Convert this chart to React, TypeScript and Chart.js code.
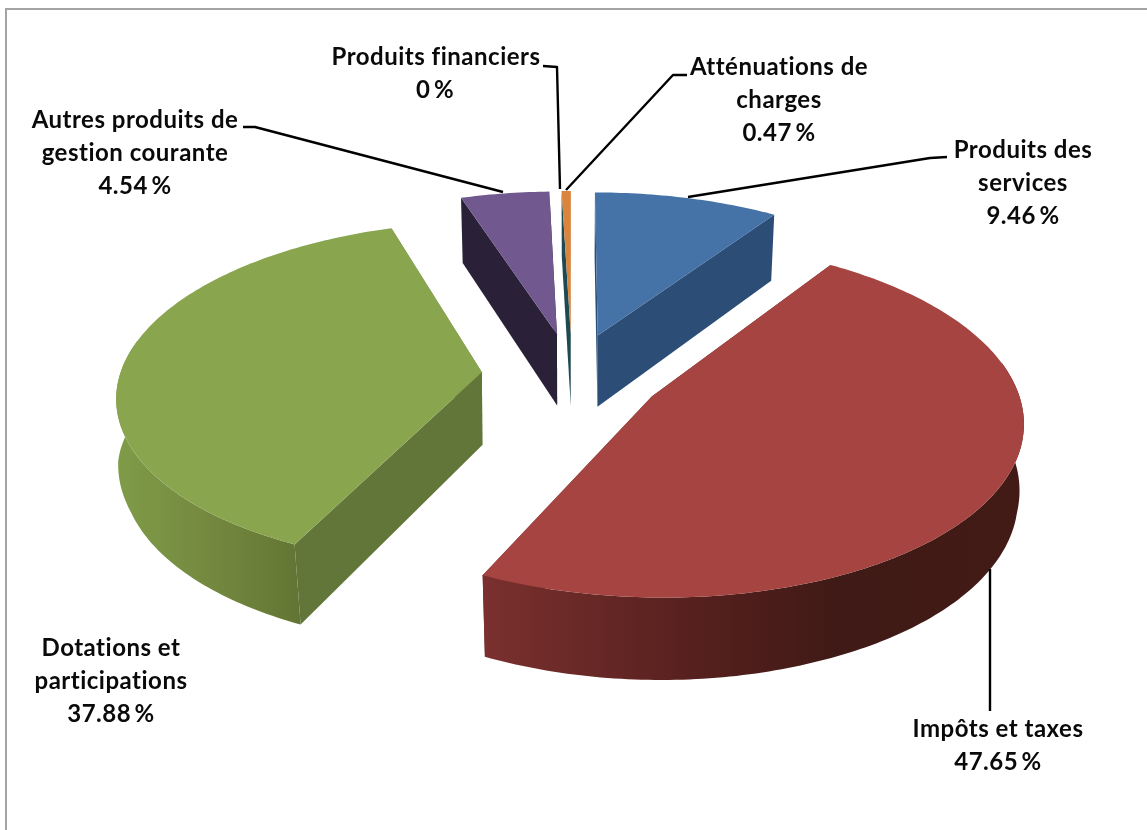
import React, { useEffect, useRef } from "react";
import { Chart, registerables } from "chart.js";

Chart.register(...registerables);

const categories = ["Produits des services", "Impôts et taxes", "Dotations et participations", "Autres produits de gestion courante", "Produits financiers", "Atténuations de charges"];
const shares = [9.46, 47.65, 37.88, 4.54, 0, 0.47];
const topColors = ["#4572a7", "#a54441", "#89a54e", "#71588f", "#4198af", "#db843d"];
const sideColors = ["#2c4d75", "#6e2c2a", "#63763a", "#2a2138", "#1d4a52", "#1d4a52"];

const labelLines = [["Produits des", "services"], ["Impôts et taxes"], ["Dotations et", "participations"], ["Autres produits de", "gestion courante"], ["Produits financiers"], ["Atténuations de", "charges"]];
const labelCenters = [[1023, 150], [998, 729], [111, 648], [135, 120], [436, 57], [779, 67]];
const labelStep = 33;
const leaders: number[][][] = [
  [[688, 197], [930, 158], [947, 157]],
  [[990, 569], [990, 711]],
  [],
  [[503, 192], [255, 127], [243, 127]],
  [[560, 189], [557, 67], [543, 66]],
  [[566, 190], [673, 75], [687, 75]],
];

const EXPLODE = 0.25;
const TILT = 0.47;
const PERSPECTIVE = 0.125;
const DEPTH = 73;

const pie3d = {
  id: "pie3d",
  beforeDatasetDraw() {
    return false;
  },
  afterDatasetsDraw(chart: any) {
    const ctx: CanvasRenderingContext2D = chart.ctx;
    const arcs = chart.getDatasetMeta(0).data as any[];
    const order = arcs
      .map((a, i) => ({ i, mid: (a.startAngle + a.endAngle) / 2 }))
      .sort((p, q) => Math.sin(p.mid) - Math.sin(q.mid));

    for (const { i, mid } of order) {
      const el = arcs[i];
      if (shares[i] <= 0) continue;
      const { x: cx, y: cy, outerRadius: R, startAngle: a0, endAngle: a1 } = el;
      const ox = EXPLODE * Math.cos(mid);
      const oy = EXPLODE * Math.sin(mid);
      const top = (u: number, v: number) => {
        const k = 1 / (1 - PERSPECTIVE * v);
        return [cx + R * u * k, cy + R * TILT * v * k, k];
      };
      const bottom = (u: number, v: number) => {
        const [x, y, k] = top(u, v);
        const dx = cx - x;
        const factor = v < 0 ? Math.min(0.6, 0.2 + Math.abs(v)) : Math.min(1, Math.max(0.2, v / 0.35));
        const shift = Math.sign(dx) * Math.min(6, Math.abs(dx) * 0.025) * factor;
        return [x + shift, y + DEPTH * Math.pow(k, 0.8)];
      };
      const n = Math.max(8, Math.ceil((a1 - a0) * 60));
      const rim: number[][] = [];
      for (let s = 0; s <= n; s++) {
        const a = a0 + ((a1 - a0) * s) / n;
        rim.push([ox + Math.cos(a), oy + Math.sin(a), a]);
      }
      const poly = (pts: number[][], fill: any) => {
        ctx.beginPath();
        pts.forEach((p, j) => (j ? ctx.lineTo(p[0], p[1]) : ctx.moveTo(p[0], p[1])));
        ctx.closePath();
        ctx.fillStyle = fill;
        ctx.fill();
      };
      // radial faces
      for (const r of [rim[0], rim[n]]) {
        poly([top(ox, oy), top(r[0], r[1]), bottom(r[0], r[1]), bottom(ox, oy)], sideColors[i]);
      }
      // outer face
      const front = rim.filter((r) => Math.sin(r[2]) > -0.2);
      if (front.length > 1) {
        let fill: any = sideColors[i];
        if (i === 1) {
          fill = ctx.createLinearGradient(483, 0, 1025, 0);
          fill.addColorStop(0, "#7a302e");
          fill.addColorStop(0.4, "#55201e");
          fill.addColorStop(0.65, "#401a16");
          fill.addColorStop(1, "#421a16");
        } else if (i === 2) {
          fill = ctx.createLinearGradient(118, 0, 300, 0);
          fill.addColorStop(0, "#7f9b48");
          fill.addColorStop(0.5, "#74893f");
          fill.addColorStop(1, "#627534");
        }
        poly([...front.map((r) => top(r[0], r[1])), ...front.slice().reverse().map((r) => bottom(r[0], r[1]))], fill);
      }
      // top face
      poly([top(ox, oy), ...rim.map((r) => top(r[0], r[1]))], topColors[i]);
    }
  },
  afterDraw(chart: any) {
    const ctx: CanvasRenderingContext2D = chart.ctx;
    ctx.save();
    // frame
    ctx.strokeStyle = "#a3a3a3";
    ctx.lineWidth = 2;
    ctx.beginPath();
    ctx.moveTo(6, 830);
    ctx.lineTo(6, 9);
    ctx.lineTo(1147, 9);
    ctx.stroke();
    // leader lines
    ctx.strokeStyle = "#000";
    ctx.lineWidth = 2.4;
    ctx.lineJoin = "round";
    leaders.forEach((line) => {
      if (!line.length) return;
      ctx.beginPath();
      line.forEach((p, j) => (j ? ctx.lineTo(p[0], p[1]) : ctx.moveTo(p[0], p[1])));
      ctx.stroke();
    });
    // labels
    ctx.fillStyle = "#0a0a0a";
    ctx.font = "bold 24px Lato";
    (ctx as any).letterSpacing = "0.5px";
    ctx.textAlign = "center";
    ctx.textBaseline = "middle";
    categories.forEach((_, i) => {
      const lines = [...labelLines[i], `${shares[i]}\u2009%`];
      const [x, y] = labelCenters[i];
      lines.forEach((t, j) => {
        const isZeroValue = i === 4 && j === 1;
        ctx.fillText(t, isZeroValue ? 435 : x, y + j * labelStep);
      });
    });
    ctx.restore();
  },
};

export default function App() {
  const ref = useRef<HTMLCanvasElement>(null);
  useEffect(() => {
    document.body.style.margin = "0";
    const chart = new Chart(ref.current!, {
      type: "pie",
      data: {
        labels: categories,
        datasets: [{ data: shares, backgroundColor: topColors, borderWidth: 0 }],
      },
      options: {
        responsive: false,
        animation: false,
        rotation: 0,
        layout: { padding: { left: 210, right: 213, top: 13, bottom: 93 } },
        plugins: { legend: { display: false }, tooltip: { enabled: false }, title: { display: false } },
      },
      plugins: [pie3d],
    } as any);
    return () => chart.destroy();
  }, []);
  return <canvas ref={ref} width={1147} height={830} style={{ display: "block", background: "#fff" }} />;
}
